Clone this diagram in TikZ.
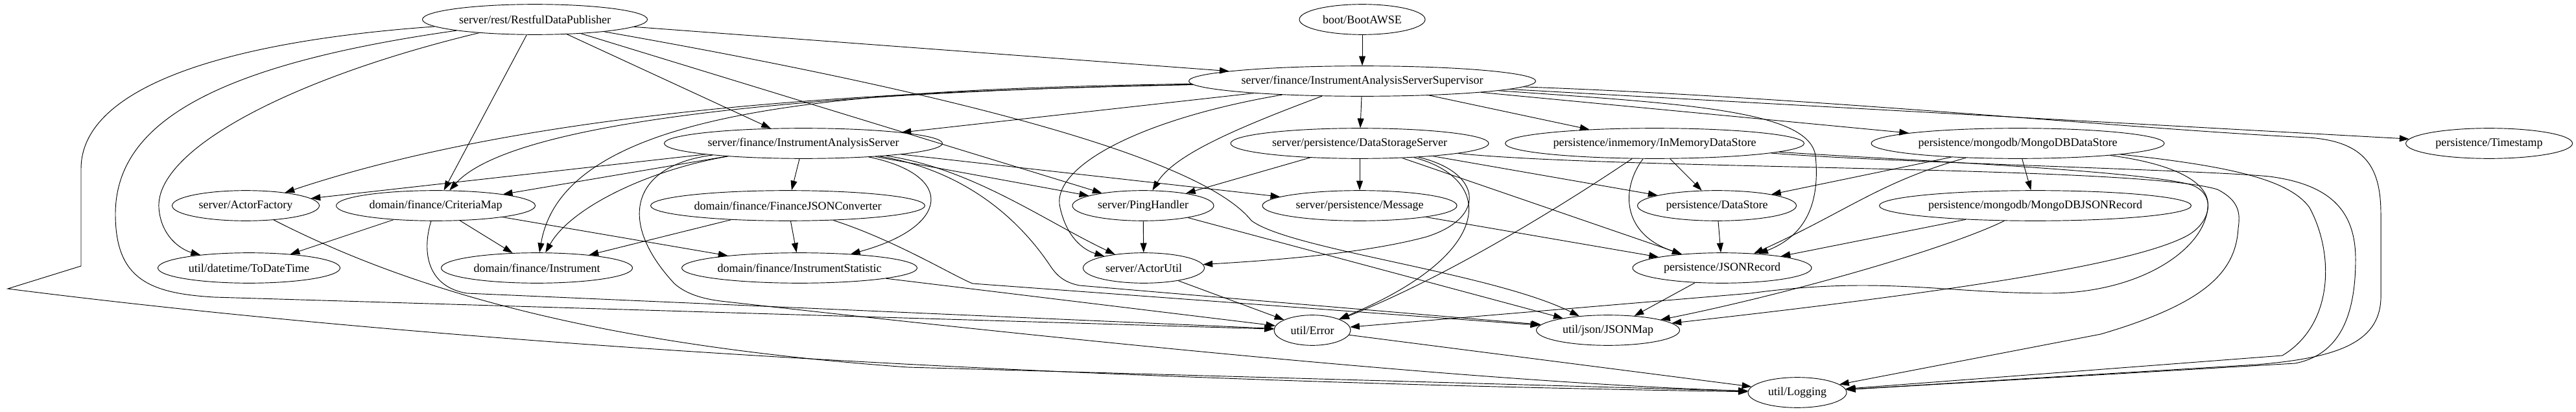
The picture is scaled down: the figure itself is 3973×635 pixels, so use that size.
\documentclass[tikz,border=0pt]{standalone}
\usepackage{fontspec}
\setmainfont{Liberation Serif}
\usetikzlibrary{shapes.geometric,arrows.meta}

\begin{document}
\begin{tikzpicture}[
    x=0.75pt, y=-0.75pt,
    mod/.style={ellipse, draw, line width=0.7pt, inner sep=0pt, minimum height=35pt, font=\fontsize{13.5}{16}\selectfont},
    wd/.style={minimum width=#1*0.75pt},
    dep/.style={-{Triangle[length=11pt,width=7.5pt]}, line width=0.7pt}
]
    \useasboundingbox (0,0) rectangle (3973,635);

    % Top level
    \node[mod, wd=347] (rdp) at (825,30) {server/rest/RestfulDataPublisher};
    \node[mod, wd=194] (boot) at (2101,30) {boot/BootAWSE};
    \node[mod, wd=535] (sup) at (2101,125) {server/finance/InstrumentAnalysisServerSupervisor};

    % Servers and stores
    \node[mod, wd=429] (ias) at (1239,221) {server/finance/InstrumentAnalysisServer};
    \node[mod, wd=398] (dss) at (2097,221) {server/persistence/DataStorageServer};
    \node[mod, wd=461] (inmem) at (2552,221) {persistence/inmemory/InMemoryDataStore};
    \node[mod, wd=452] (mongo) at (3112,221) {persistence/mongodb/MongoDBDataStore};
    \node[mod, wd=257] (tstamp) at (3839,221) {persistence/Timestamp};

    % Middle row
    \node[mod, wd=227] (afact) at (379,317) {server/ActorFactory};
    \node[mod, wd=307] (crit) at (672,317) {domain/finance/CriteriaMap};
    \node[mod, wd=423] (fjc) at (1215,317) {domain/finance/FinanceJSONConverter};
    \node[mod, wd=218] (ping) at (1763,317) {server/PingHandler};
    \node[mod, wd=300] (msg) at (2097,317) {server/persistence/Message};
    \node[mod, wd=245] (dstore) at (2648,317) {persistence/DataStore};
    \node[mod, wd=481] (mjson) at (3139,317) {persistence/mongodb/MongoDBJSONRecord};

    % Lower row
    \node[mod, wd=281] (todt) at (384,413) {util/datetime/ToDateTime};
    \node[mod, wd=295] (instr) at (828,413) {domain/finance/Instrument};
    \node[mod, wd=363] (istat) at (1233,413) {domain/finance/InstrumentStatistic};
    \node[mod, wd=187] (autil) at (1764,413) {server/ActorUtil};
    \node[mod, wd=276] (jrec) at (2656,413) {persistence/JSONRecord};

    % Utilities
    \node[mod, wd=118] (err) at (2024,509) {util/Error};
    \node[mod, wd=221] (jmap) at (2480,509) {util/json/JSONMap};
    \node[mod, wd=152] (log) at (2772,605) {util/Logging};

    % Publisher
    \draw[dep] (rdp) -- (sup);
    \draw[dep] (rdp) -- (ias);
    \draw[dep] (rdp) -- (crit);
    \draw[dep] (rdp) -- (ping);
    \draw[dep] (rdp) .. controls (1450,140) and (1850,240) .. (1930,340) .. controls (1990,385) and (2300,420) .. (jmap);
    \draw[dep] (rdp) .. controls (450,120) and (240,230) .. (245,320) .. controls (248,365) and (280,385) .. (todt);
    \draw[dep] (rdp) .. controls (330,100) and (178,190) .. (178,330) .. controls (178,430) and (230,452) .. (330,458) -- (err);
    \draw[dep] (rdp) .. controls (330,65) and (125,140) .. (125,260) -- (125,410) -- (12,445) .. controls (600,520) and (1500,585) .. (log);

    % Boot
    \draw[dep] (boot) -- (sup);

    % Supervisor
    \draw[dep] (sup) -- (ias);
    \draw[dep] (sup) -- (dss);
    \draw[dep] (sup) -- (inmem);
    \draw[dep] (sup) -- (mongo);
    \draw[dep] (sup) -- (tstamp);
    \draw[dep] (sup) .. controls (1400,140) and (850,160) .. (afact);
    \draw[dep] (sup) .. controls (1350,140) and (800,175) .. (crit);
    \draw[dep] (sup) .. controls (1300,138) and (870,165) .. (instr);
    \draw[dep] (sup) .. controls (1900,200) and (1810,240) .. (ping);
    \draw[dep] (sup) .. controls (1750,185) and (1620,260) .. (1635,320) .. controls (1645,365) and (1670,385) .. (autil);
    \draw[dep] (sup) .. controls (2600,160) and (2790,170) .. (2800,240) .. controls (2808,320) and (2780,365) .. (jrec);
    \draw[dep] (sup) .. controls (2800,150) and (3300,200) .. (3560,212) .. controls (3650,218) and (3672,260) .. (3672,330) -- (3672,460) .. controls (3670,530) and (3600,552) .. (3480,562) -- (log);

    % Analysis server
    \draw[dep] (ias) -- (afact);
    \draw[dep] (ias) -- (crit);
    \draw[dep] (ias) .. controls (1000,262) and (880,320) .. (instr);
    \draw[dep] (ias) -- (fjc);
    \draw[dep] (ias) .. controls (1475,270) and (1465,350) .. (istat);
    \draw[dep] (ias) -- (ping);
    \draw[dep] (ias) -- (msg);
    \draw[dep] (ias) .. controls (1500,260) and (1610,340) .. (autil);
    \draw[dep] (ias) .. controls (1500,265) and (1580,350) .. (1620,410) .. controls (1632,428) and (1645,436) .. (1665,440) -- (jmap);
    \draw[dep] (ias) .. controls (975,255) and (950,340) .. (1040,437) .. controls (1060,455) and (1090,462) .. (1120,465) .. controls (1700,530) and (2300,590) .. (log);

    % Storage server
    \draw[dep] (dss) -- (ping);
    \draw[dep] (dss) -- (msg);
    \draw[dep] (dss) -- (dstore);
    \draw[dep] (dss) -- (jrec);
    \draw[dep] (dss) .. controls (2285,265) and (2295,335) .. (2200,365) .. controls (2100,392) and (1950,402) .. (autil);
    \draw[dep] (dss) .. controls (2305,275) and (2310,390) .. (err);
    \draw[dep] (dss) .. controls (2500,262) and (3300,255) .. (3420,292) .. controls (3455,310) and (3455,330) .. (3452,352) .. controls (3448,420) and (3400,468) .. (3240,515) -- (log);

    % In-memory store
    \draw[dep] (inmem) -- (dstore);
    \draw[dep] (inmem) .. controls (2500,290) and (2500,360) .. (jrec);
    \draw[dep] (inmem) .. controls (2450,290) and (2250,420) .. (err);
    \draw[dep] (inmem) .. controls (2900,245) and (3300,262) .. (3380,285) .. controls (3420,300) and (3410,345) .. (3370,365) .. controls (3300,400) and (3100,440) .. (jmap);
    \draw[dep] (inmem) .. controls (2900,250) and (3400,262) .. (3500,272) .. controls (3600,285) and (3633,330) .. (3633,400) .. controls (3633,500) and (3600,548) .. (3540,560) -- (log);

    % MongoDB store
    \draw[dep] (mongo) -- (dstore);
    \draw[dep] (mongo) -- (mjson);
    \draw[dep] (mongo) .. controls (2900,280) and (2850,325) .. (jrec);
    \draw[dep] (mongo) .. controls (3350,252) and (3410,280) .. (3405,320) .. controls (3400,385) and (3300,452) .. (3160,452) .. controls (3000,452) and (2900,425) .. (2700,452) -- (err);
    \draw[dep] (mongo) .. controls (3430,255) and (3530,275) .. (3562,320) .. controls (3600,390) and (3600,500) .. (3520,548) -- (log);
    \draw[dep] (mjson) -- (jrec);
    \draw[dep] (mjson) .. controls (3000,385) and (2750,455) .. (jmap);

    % Middle and lower rows
    \draw[dep] (afact) .. controls (620,440) and (900,530) .. (1400,566) -- (log);
    \draw[dep] (crit) -- (todt);
    \draw[dep] (crit) -- (instr);
    \draw[dep] (crit) -- (istat);
    \draw[dep] (crit) .. controls (650,390) and (660,442) .. (720,452) -- (err);
    \draw[dep] (fjc) -- (instr);
    \draw[dep] (fjc) -- (istat);
    \draw[dep] (fjc) .. controls (1380,370) and (1470,425) .. (1500,437) -- (jmap);
    \draw[dep] (istat) -- (err);
    \draw[dep] (ping) -- (autil);
    \draw[dep] (ping) -- (jmap);
    \draw[dep] (msg) -- (jrec);
    \draw[dep] (dstore) -- (jrec);
    \draw[dep] (autil) -- (err);
    \draw[dep] (jrec) -- (jmap);
    \draw[dep] (err) -- (log);
\end{tikzpicture}
\end{document}
